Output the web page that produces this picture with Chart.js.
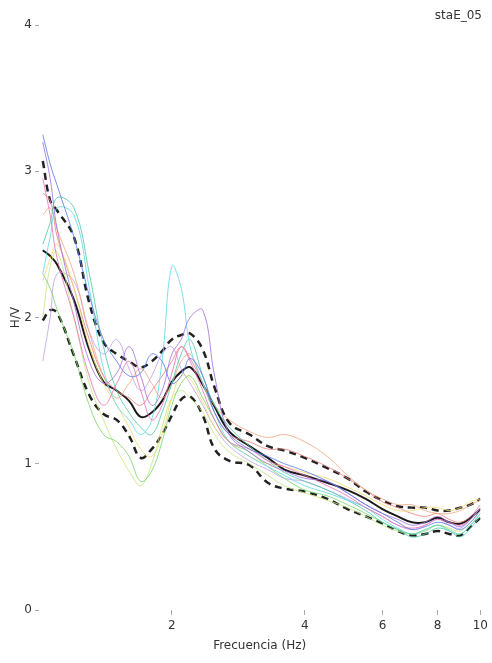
<!DOCTYPE html>
<html>
<head>
<meta charset="utf-8">
<script src="https://cdn.jsdelivr.net/npm/chart.js@4.4.0/dist/chart.umd.min.js"></script>
<style>
  body { margin: 0; background: #fff; }
  #wrap { width: 492px; height: 663px; }
</style>
</head>
<body>
<div id="wrap"><canvas id="hv"></canvas></div>
<script>
// frequency grid (Hz) shared by all curves
const freqs = [1.02,1.06,1.1,1.2,1.3,1.4,1.5,1.6,1.7,1.8,1.9,2.0,2.1,2.2,2.35,2.5,2.7,3.0,3.3,3.6,4.0,4.5,5.0,5.5,6.0,6.5,7.0,7.5,8.0,8.5,9.0,9.5,10];

const meanHV  = [2.46,2.42,2.36,2.12,1.78,1.56,1.50,1.43,1.32,1.35,1.43,1.56,1.63,1.66,1.54,1.39,1.22,1.12,1.04,0.96,0.92,0.87,0.82,0.76,0.69,0.64,0.60,0.60,0.63,0.60,0.59,0.63,0.69];
const upperHV = [3.07,2.80,2.73,2.55,2.10,1.83,1.75,1.70,1.66,1.70,1.77,1.85,1.88,1.89,1.78,1.52,1.28,1.20,1.12,1.09,1.04,0.97,0.90,0.81,0.75,0.71,0.70,0.70,0.68,0.68,0.70,0.72,0.76];
const lowerHV = [1.98,2.05,2.03,1.74,1.47,1.34,1.30,1.19,1.04,1.10,1.20,1.33,1.44,1.46,1.33,1.10,1.02,0.99,0.87,0.83,0.81,0.76,0.69,0.64,0.59,0.54,0.51,0.52,0.54,0.52,0.51,0.57,0.63];

// individual windows
const win1  = [3.25,3.05,2.90,2.55,2.15,1.85,1.70,1.60,1.62,1.75,1.70,1.55,1.60,1.72,1.60,1.35,1.20,1.10,1.05,1.00,0.95,0.88,0.80,0.72,0.66,0.60,0.55,0.57,0.60,0.58,0.55,0.60,0.68];
const win2  = [3.20,2.95,2.60,2.10,1.70,1.55,1.62,1.80,1.60,1.40,1.50,1.75,1.85,2.00,2.05,1.60,1.20,1.08,1.00,0.95,0.90,0.88,0.80,0.72,0.66,0.62,0.58,0.60,0.64,0.60,0.57,0.62,0.70];
const win3  = [2.95,2.70,2.40,2.00,1.60,1.40,1.55,1.70,1.50,1.30,1.40,1.62,1.80,1.70,1.50,1.30,1.15,1.10,1.02,0.98,0.92,0.85,0.78,0.70,0.64,0.58,0.56,0.58,0.62,0.60,0.58,0.62,0.70];
const win4  = [2.30,2.55,2.75,2.70,2.20,1.65,1.40,1.30,1.20,1.30,1.70,2.35,2.20,1.80,1.55,1.35,1.15,1.05,0.98,0.92,0.85,0.80,0.75,0.70,0.62,0.56,0.52,0.55,0.58,0.54,0.52,0.58,0.66];
const win5  = [2.50,2.65,2.82,2.75,2.30,1.80,1.50,1.35,1.25,1.20,1.35,1.55,1.75,1.85,1.60,1.40,1.25,1.12,1.02,0.94,0.88,0.82,0.75,0.68,0.60,0.55,0.50,0.52,0.56,0.54,0.50,0.56,0.64];
const win6  = [2.30,2.20,2.05,1.75,1.40,1.20,1.15,1.05,0.88,0.95,1.15,1.40,1.55,1.60,1.45,1.30,1.15,1.08,0.98,0.90,0.82,0.78,0.72,0.66,0.60,0.55,0.52,0.54,0.58,0.55,0.52,0.58,0.66];
const win7  = [2.00,2.35,2.45,2.00,1.55,1.30,1.10,0.95,0.85,1.00,1.25,1.45,1.50,1.45,1.35,1.20,1.08,1.00,0.92,0.85,0.80,0.75,0.70,0.64,0.58,0.54,0.52,0.55,0.58,0.56,0.54,0.60,0.68];
const win8  = [2.25,2.40,2.50,2.20,1.80,1.55,1.40,1.25,1.10,1.05,1.20,1.45,1.60,1.58,1.42,1.25,1.15,1.05,1.00,0.98,0.94,0.90,0.84,0.78,0.72,0.68,0.68,0.70,0.70,0.68,0.70,0.74,0.76];
const win9  = [2.70,2.75,2.60,2.30,1.90,1.60,1.45,1.55,1.65,1.55,1.45,1.55,1.70,1.75,1.55,1.40,1.30,1.22,1.18,1.20,1.15,1.05,0.92,0.82,0.76,0.72,0.72,0.68,0.66,0.66,0.68,0.72,0.75];
const win10 = [2.85,2.80,2.55,2.20,1.85,1.60,1.50,1.45,1.40,1.50,1.60,1.70,1.80,1.72,1.55,1.35,1.20,1.15,1.10,1.10,1.05,0.98,0.90,0.82,0.74,0.70,0.66,0.64,0.66,0.62,0.60,0.64,0.72];
const win11 = [1.70,2.00,2.30,2.25,1.90,1.75,1.85,1.65,1.50,1.60,1.75,1.80,1.65,1.55,1.40,1.25,1.12,1.02,0.96,0.90,0.88,0.82,0.76,0.70,0.64,0.58,0.55,0.58,0.62,0.58,0.56,0.62,0.70];

const windows = [win1, win2, win3, win4, win5, win6, win7, win8, win9, win10, win11];
const winColors = ['#5b7be8','#a070e0','#e870b0','#60d8e8','#50c8a8','#78d868','#c0e880','#f0dc70','#f0a880','#e88080','#c0a0f0'];

const xTicks = [2, 4, 6, 8, 10];
const yTicks = [0, 1, 2, 3, 4];

const pts = arr => arr.map((v, i) => ({ x: freqs[i], y: v }));

const datasets = windows.map((w, i) => ({
    data: pts(w), borderColor: winColors[i] + 'd0', borderWidth: 1, pointRadius: 0, tension: 0.4
}));
datasets.push({ data: pts(upperHV), borderColor: '#222', borderWidth: 2.5, borderDash: [7, 5], pointRadius: 0, tension: 0.4 });
datasets.push({ data: pts(lowerHV), borderColor: '#222', borderWidth: 2.5, borderDash: [7, 5], pointRadius: 0, tension: 0.4 });
datasets.push({ data: pts(meanHV), borderColor: '#1a1a1a', borderWidth: 2, pointRadius: 0, tension: 0.4 });

const stationLabel = {
    id: 'stationLabel',
    afterDraw(chart) {
        const c = chart.ctx;
        c.save();
        c.font = '12px "DejaVu Sans"';
        c.fillStyle = '#333';
        c.textAlign = 'right';
        c.textBaseline = 'middle';
        c.fillText('staE_05', 482, 16);
        c.restore();
    }
};

const tickFont = { family: 'DejaVu Sans', size: 12 };

new Chart(document.getElementById('hv'), {
    type: 'line',
    data: { datasets },
    plugins: [stationLabel],
    options: {
        responsive: true,
        maintainAspectRatio: false,
        animation: false,
        layout: { padding: { top: 25, right: 11, left: 0, bottom: 0 } },
        plugins: { legend: { display: false }, tooltip: { enabled: false } },
        scales: {
            x: {
                type: 'logarithmic', min: 1, max: 10,
                border: { display: false },
                grid: { drawOnChartArea: false, drawTicks: true, tickLength: 5, color: '#aaa' },
                afterBuildTicks: s => { s.ticks = xTicks.map(v => ({ value: v })); },
                afterFit: s => { s.height = 53; },
                ticks: { color: '#333', font: tickFont, padding: 4, maxRotation: 0, callback: v => String(v) },
                title: { display: true, text: 'Frecuencia (Hz)', color: '#333', font: { family: 'DejaVu Sans', size: 12 }, padding: { top: 0, bottom: 10 } }
            },
            y: {
                min: 0, max: 4,
                border: { display: false },
                grid: { drawOnChartArea: false, drawTicks: true, tickLength: 4, color: '#aaa' },
                afterBuildTicks: s => { s.ticks = yTicks.map(v => ({ value: v })); },
                afterFit: s => { s.width = 39; },
                ticks: { color: '#333', font: tickFont, padding: 3 },
                title: { display: true, text: 'H/V', color: '#333', font: { family: 'DejaVu Sans', size: 12 }, padding: { top: 9, bottom: 0 } }
            }
        }
    }
});
</script>
</body>
</html>
